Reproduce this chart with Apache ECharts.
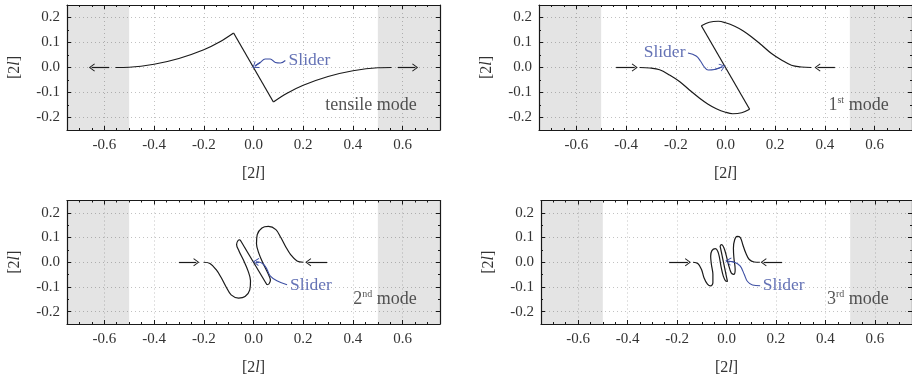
<!DOCTYPE html>
<html>
<head>
<meta charset="utf-8">
<script src="https://cdn.jsdelivr.net/npm/echarts@6/dist/echarts.min.js"></script>
<style>
  html, body { margin: 0; background: #fff; }
  #chart { width: 912px; height: 377px; }
</style>
</head>
<body>
<div id="chart"></div>
<script>
// ---- data, in units of [2l] ----

// tensile mode
const tensileLeft = [[-0.555, 0], [-0.5, 0.001], [-0.4, 0.013], [-0.3, 0.036], [-0.2, 0.071], [-0.135, 0.103], [-0.08, 0.138]]
const tensileSlider = [[-0.08, 0.138], [0.08, -0.138]]
const tensileRight = [[0.08, -0.138], [0.135, -0.103], [0.2, -0.071], [0.3, -0.036], [0.4, -0.013], [0.5, -0.001], [0.555, 0]]
const tensileArrows = [[[-0.58, 0], [-0.65, 0]], [[0.58, 0], [0.65, 0]]]
const tensilePointer = [[0.128, 0.028], [0.108, 0.018], [0.088, 0.02], [0.067, 0.034], [0.047, 0.034], [0.027, 0.02], [0.006, 0.006]]

// 1st mode
const mode1Left = [[-0.345, 0], [-0.305, -0.002], [-0.265, -0.009], [-0.225, -0.03], [-0.185, -0.056], [-0.145, -0.09], [-0.104, -0.123], [-0.07, -0.147], [-0.037, -0.165], [0, -0.179], [0.029, -0.185], [0.065, -0.181], [0.097, -0.167]]
const mode1Slider = [[0.097, -0.167], [-0.097, 0.167]]
const mode1Right = [[-0.097, 0.167], [-0.065, 0.181], [-0.029, 0.185], [0, 0.179], [0.037, 0.165], [0.07, 0.147], [0.104, 0.123], [0.145, 0.09], [0.185, 0.056], [0.225, 0.03], [0.265, 0.009], [0.305, 0.002], [0.345, 0]]
const mode1Arrows = [[[-0.44, 0], [-0.365, 0]], [[0.44, 0], [0.37, 0]]]
const mode1Pointer = [[-0.151, 0.058], [-0.118, 0.046], [-0.1, 0.025], [-0.085, 0.002], [-0.07, -0.01], [-0.044, -0.008], [-0.012, 0.003]]

// 2nd mode
const mode2Left = [[-0.2, 0], [-0.175, -0.005], [-0.15, -0.03], [-0.13, -0.062], [-0.11, -0.1], [-0.09, -0.132], [-0.06, -0.145], [-0.034, -0.139], [-0.015, -0.112], [-0.012, -0.075], [-0.022, -0.035], [-0.04, 0.008], [-0.058, 0.045], [-0.068, 0.072], [-0.062, 0.088], [-0.054, 0.091]]
const mode2Slider = [[-0.054, 0.091], [0.054, -0.091]]
const mode2Right = [[0.054, -0.091], [0.062, -0.088], [0.068, -0.072], [0.058, -0.045], [0.04, -0.008], [0.022, 0.035], [0.012, 0.075], [0.015, 0.112], [0.034, 0.139], [0.06, 0.145], [0.09, 0.132], [0.11, 0.1], [0.13, 0.062], [0.15, 0.03], [0.175, 0.005], [0.2, 0]]
const mode2Arrows = [[[-0.3, 0], [-0.23, 0]], [[0.296, 0], [0.22, 0]]]
const mode2Pointer = [[0.135, -0.091], [0.094, -0.075], [0.067, -0.055], [0.054, -0.028], [0.04, -0.008], [0.022, 0.001], [0.01, 0.002]]

// 3rd mode
const mode3Left = [[-0.135, 0], [-0.115, -0.006], [-0.101, -0.029], [-0.091, -0.063], [-0.077, -0.089], [-0.064, -0.096], [-0.055, -0.083], [-0.055, -0.049], [-0.061, -0.009], [-0.064, 0.024], [-0.059, 0.047], [-0.045, 0.055], [-0.035, 0.044], [-0.028, 0.017], [-0.021, -0.023], [-0.013, -0.056], [-0.004, -0.075], [0.004, -0.078]]
const mode3Slider = [[0.004, -0.078], [-0.026, 0.066]]
const mode3Right = [[-0.026, 0.066], [-0.02, 0.071], [-0.011, 0.06], [-0.002, 0.031], [0.008, -0.009], [0.019, -0.043], [0.029, -0.049], [0.035, -0.029], [0.03, 0.017], [0.028, 0.057], [0.033, 0.091], [0.043, 0.105], [0.056, 0.1], [0.066, 0.071], [0.078, 0.037], [0.092, 0.011], [0.112, 0.001], [0.135, 0]]
const mode3Arrows = [[[-0.232, 0], [-0.156, 0]], [[0.225, 0], [0.15, 0]]]
const mode3Pointer = [[0.136, -0.095], [0.105, -0.092], [0.085, -0.078], [0.072, -0.05], [0.055, -0.015], [0.03, 0.001], [0.007, 0.004]]

const modeNames = ['tensile mode', '1{sup|st} mode', '2{sup|nd} mode', '3{sup|rd} mode']
const sliderLabelPos = [[0.135, 0.03], [-0.155, 0.06], [0.141, -0.092], [0.141, -0.092]]
const sliderLabelSide = ['right', 'left', 'right', 'right']
const modeLabelPos = [0.658, -0.15]
const clampZones = [[-0.75, -0.5], [0.5, 0.75]]

// ---- chart ----
const FONT = 'Liberation Serif'
const INK = '#1a1a1a'
const BLUE = '#3d4fa3'
const CHEVRON = 'path://M0,0 L6,8 L5,8.8 L0,2.2 L-5,8.8 L-6,8 Z'

const panels = [
  { left: tensileLeft, slider: tensileSlider, right: tensileRight, arrows: tensileArrows, pointer: tensilePointer },
  { left: mode1Left, slider: mode1Slider, right: mode1Right, arrows: mode1Arrows, pointer: mode1Pointer },
  { left: mode2Left, slider: mode2Slider, right: mode2Right, arrows: mode2Arrows, pointer: mode2Pointer },
  { left: mode3Left, slider: mode3Slider, right: mode3Right, arrows: mode3Arrows, pointer: mode3Pointer },
]

const grids = [
  { left: 67, top: 5, width: 373, height: 125 },
  { left: 539, top: 5, width: 375, height: 125 },
  { left: 67, top: 200.5, width: 373, height: 125 },
  { left: 541, top: 200.5, width: 375, height: 125 },
]

const frameLine = { show: true, onZero: false, lineStyle: { color: INK, width: 1.2 } }
const tickStyle = { lineStyle: { color: INK, width: 1 } }
const labelStyle = { fontFamily: FONT, fontSize: 15, color: '#333' }
const nameStyle = {
  fontFamily: FONT, fontSize: 16, color: '#333',
  rich: { i: { fontFamily: FONT, fontSize: 16, fontStyle: 'italic', color: '#333' } },
}

const xAxis = []
const yAxis = []
grids.forEach((g, i) => {
  xAxis.push({
    gridIndex: i, type: 'value', min: -0.75, max: 0.75, splitNumber: 7, position: 'bottom',
    axisLine: frameLine,
    axisTick: { inside: true, length: 4, ...tickStyle },
    minorTick: { show: true, splitNumber: 4, length: 2, ...tickStyle },
    splitLine: { show: true, lineStyle: { color: '#c2c2c2', type: [1, 3] } },
    axisLabel: { ...labelStyle, margin: 8, showMinLabel: false, showMaxLabel: false, formatter: (v) => v.toFixed(1) },
    name: '[2{i|l}]', nameLocation: 'middle', nameGap: 36, nameTextStyle: nameStyle,
  })
  xAxis.push({
    gridIndex: i, type: 'value', min: -0.75, max: 0.75, splitNumber: 7, position: 'top',
    axisLine: frameLine,
    axisTick: { inside: true, length: 4, ...tickStyle },
    minorTick: { show: true, splitNumber: 4, length: 2, ...tickStyle },
    splitLine: { show: false }, axisLabel: { show: false },
  })
  yAxis.push({
    gridIndex: i, type: 'value', min: -0.25, max: 0.25, splitNumber: 5, position: 'left',
    axisLine: frameLine,
    axisTick: { inside: true, length: 4, ...tickStyle },
    minorTick: { show: true, splitNumber: 2, length: 2, ...tickStyle },
    splitLine: { show: true, lineStyle: { color: '#c2c2c2', type: [1, 3] } },
    axisLabel: { ...labelStyle, margin: 7, showMinLabel: false, showMaxLabel: false, formatter: (v) => v.toFixed(1) },
    name: '[2{i|l}]', nameLocation: 'middle', nameGap: 44, nameRotate: 90, nameTextStyle: nameStyle,
  })
  yAxis.push({
    gridIndex: i, type: 'value', min: -0.25, max: 0.25, splitNumber: 5, position: 'right',
    axisLine: frameLine,
    axisTick: { inside: true, length: 4, ...tickStyle },
    minorTick: { show: true, splitNumber: 2, length: 2, ...tickStyle },
    splitLine: { show: false }, axisLabel: { show: false },
  })
})

const curve = (i, data, smooth) => ({
  type: 'line', xAxisIndex: 2 * i, yAxisIndex: 2 * i, data, smooth,
  symbol: 'none', silent: true, z: 3,
  lineStyle: { color: INK, width: 1.2 },
})

const arrowMarks = (pairs, color) => ({
  silent: true, animation: false, symbol: ['none', CHEVRON], symbolSize: [8, 6],
  label: { show: false }, emphasis: { disabled: true },
  lineStyle: { color, width: 1.2, type: 'solid' },
  data: pairs.map(([a, b]) => [{ coord: a }, { coord: b }]),
})

const series = []
panels.forEach((p, i) => {
  // clamped (grey) zones
  series.push({
    type: 'line', xAxisIndex: 2 * i, yAxisIndex: 2 * i, data: [[0, 0]], symbol: 'none',
    lineStyle: { width: 0 }, silent: true, z: 1,
    markArea: {
      silent: true, itemStyle: { color: 'rgba(0,0,0,0.105)' },
      data: clampZones.map(([a, b]) => [{ xAxis: a }, { xAxis: b }]),
    },
  })
  series.push({ ...curve(i, p.left, 0.35), markLine: arrowMarks(p.arrows, INK) })
  series.push(curve(i, p.slider, false))
  series.push(curve(i, p.right, 0.35))
  // blue pointer to the slider
  const n = p.pointer.length
  series.push({
    type: 'line', xAxisIndex: 2 * i, yAxisIndex: 2 * i, data: p.pointer, smooth: 0.4,
    symbol: 'none', silent: true, z: 4,
    lineStyle: { color: BLUE, width: 1.1 },
    markLine: arrowMarks([[p.pointer[n - 2], p.pointer[n - 1]]], BLUE),
  })
  // texts
  series.push({
    type: 'scatter', xAxisIndex: 2 * i, yAxisIndex: 2 * i, symbolSize: 1, silent: true, z: 5,
    itemStyle: { color: 'rgba(0,0,0,0)' },
    data: [
      { value: sliderLabelPos[i], label: { show: true, position: sliderLabelSide[i], distance: 1, formatter: 'Slider', color: BLUE, fontFamily: FONT, fontSize: 17.5 } },
      {
        value: modeLabelPos, label: {
          show: true, position: 'left', distance: 0, formatter: modeNames[i],
          color: '#2a2a2a', fontFamily: FONT, fontSize: 18, lineHeight: 20,
          rich: { sup: { fontFamily: FONT, fontSize: 10, color: '#2a2a2a', verticalAlign: 'top', lineHeight: 12 } },
        },
      },
    ],
  })
})

const chart = echarts.init(document.getElementById('chart'), null, { renderer: 'canvas' })
chart.setOption({
  backgroundColor: '#fff',
  animation: false,
  grid: grids,
  xAxis,
  yAxis,
  series,
})
</script>
</body>
</html>
